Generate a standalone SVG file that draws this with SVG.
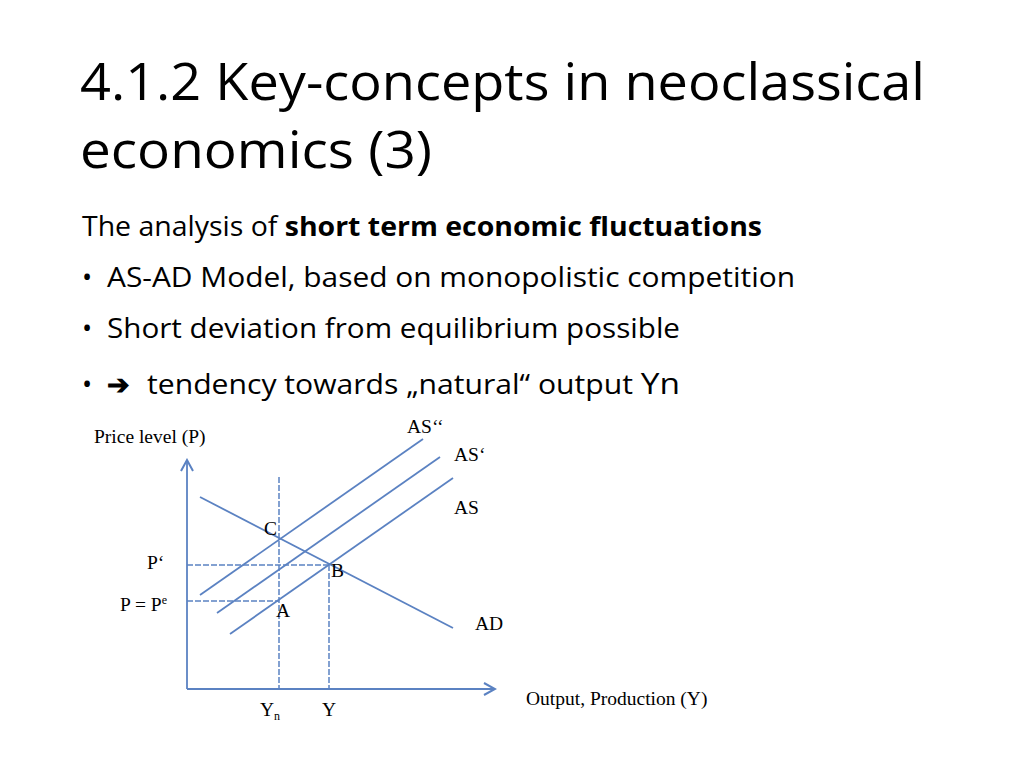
<svg xmlns="http://www.w3.org/2000/svg" width="1024" height="768" viewBox="0 0 1024 768">
<style>
.t{font-family:"Open Sans","Noto Sans",sans-serif;fill:#000}
.s{font-family:"Liberation Serif",serif;fill:#000;font-size:19.5px}
.l{stroke:#5b82c2;stroke-width:1.8;fill:none}
.d{stroke:#5b82c2;stroke-width:1.5;stroke-dasharray:6 2;fill:none}
</style>
<defs><marker id="ar" markerWidth="14" markerHeight="14" refX="12" refY="7" orient="auto" markerUnits="userSpaceOnUse"><path d="M1 1 L12 7 L1 13" fill="none" stroke="#5b82c2" stroke-width="2"/></marker></defs>
<rect width="1024" height="768" fill="#fff"/>
<g id="title"><text class="t" x="80" y="100" font-size="52" textLength="845" lengthAdjust="spacingAndGlyphs">4.1.2 Key-concepts in neoclassical</text>
<text class="t" x="80" y="168" font-size="52" textLength="352" lengthAdjust="spacingAndGlyphs">economics (3)</text></g>
<g id="body">
<text class="t" x="82" y="236" font-size="27" textLength="680" lengthAdjust="spacingAndGlyphs">The analysis of <tspan font-weight="bold">short term economic fluctuations</tspan></text>
<text class="t" x="82" y="287" font-size="27">•</text>
<text class="t" x="107" y="287" font-size="27" textLength="688" lengthAdjust="spacingAndGlyphs">AS-AD Model, based on monopolistic competition</text>
<text class="t" x="82" y="338" font-size="27">•</text>
<text class="t" x="107" y="338" font-size="27" textLength="573" lengthAdjust="spacingAndGlyphs">Short deviation from equilibrium possible</text>
<text class="t" x="82" y="394" font-size="27">•</text>
<text class="t" x="107" y="394" font-size="27" font-weight="bold">➔</text>
<text class="t" x="147" y="394" font-size="27" textLength="533" lengthAdjust="spacingAndGlyphs">tendency towards „natural“ output <tspan font-size="30">Yn</tspan></text>
</g>
<g id="connectors">
<line class="l" x1="187" y1="689" x2="187" y2="460" marker-end="url(#ar)"/>
<line class="l" x1="187" y1="689" x2="495" y2="689" marker-end="url(#ar)"/>
<line class="l" x1="200" y1="497" x2="453" y2="628"/>
<line class="l" x1="200" y1="595" x2="423" y2="439"/>
<line class="l" x1="217" y1="613" x2="440" y2="457"/>
<line class="l" x1="230" y1="634" x2="453" y2="478"/>
<line class="d" x1="279" y1="477" x2="279" y2="689"/>
<line class="d" x1="329" y1="565" x2="329" y2="689"/>
<line class="d" x1="187" y1="565" x2="329" y2="565"/>
<line class="d" x1="187" y1="601" x2="279" y2="601"/>
</g>
<g id="labels">
<text class="s" x="94" y="443">Price level (P)</text>
<text class="s" x="407" y="433">AS‘‘</text>
<text class="s" x="454" y="461">AS‘</text>
<text class="s" x="454" y="514">AS</text>
<text class="s" x="475" y="630">AD</text>
<text class="s" x="264" y="535">C</text>
<text class="s" x="331" y="577">B</text>
<text class="s" x="276" y="617">A</text>
<text class="s" x="147" y="569">P‘</text>
<text class="s" x="120" y="611">P = P<tspan font-size="12" dy="-7">e</tspan></text>
<text class="s" x="260" y="716">Y<tspan font-size="12" dy="4">n</tspan></text>
<text class="s" x="322" y="716">Y</text>
<text class="s" x="526" y="705">Output, Production (Y)</text>
</g>
</svg>
